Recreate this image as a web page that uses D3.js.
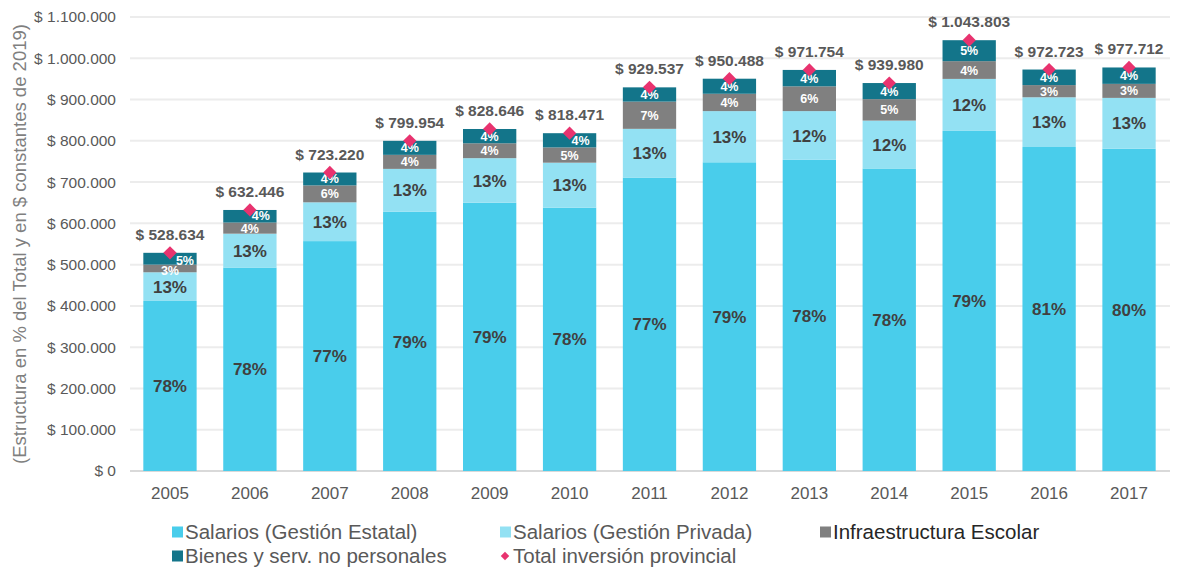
<!DOCTYPE html>
<html>
<head>
<meta charset="utf-8">
<script src="https://cdn.jsdelivr.net/npm/d3@7"></script>
<style>
  body { margin: 0; background: #fff; }
  text { font-family: "Liberation Sans", Arial, sans-serif; }
</style>
</head>
<body>
<svg id="chart" width="1180" height="567"></svg>
<script>

let years = ['2005', '2006', '2007', '2008', '2009', '2010', '2011', '2012', '2013', '2014', '2015', '2016', '2017']

// values in $ constantes de 2019
let estatal = [412000, 493000, 557000, 628000, 650000, 638000, 711000, 748000, 754000, 733000, 824000, 785000, 781000]
let privada = [69500, 82000, 94000, 104000, 108000, 109000, 118000, 124000, 118000, 116000, 126000, 120500, 123000]
let infra = [18500, 27000, 41000, 34000, 36000, 37000, 66000, 42000, 60000, 52000, 43000, 29500, 34000]
let bienes = [28634, 30446, 31220, 33954, 34646, 34471, 34537, 36488, 39754, 38980, 50803, 37723, 39712]
let totals = [528634, 632446, 723220, 799954, 828646, 818471, 929537, 950488, 971754, 939980, 1043803, 972723, 977712]

// percentage labels as printed on the bars
let estatalPct = ['78%', '78%', '77%', '79%', '79%', '78%', '77%', '79%', '78%', '78%', '79%', '81%', '80%']
let privadaPct = ['13%', '13%', '13%', '13%', '13%', '13%', '13%', '13%', '12%', '12%', '12%', '13%', '13%']
let infraPct = ['3%', '4%', '6%', '4%', '4%', '5%', '7%', '4%', '6%', '5%', '4%', '3%', '3%']
let bienesPct = ['5%', '4%', '4%', '4%', '4%', '4%', '4%', '4%', '4%', '4%', '5%', '4%', '4%']

let yTicks = [0, 100000, 200000, 300000, 400000, 500000, 600000, 700000, 800000, 900000, 1000000, 1100000]

let seriesNames = ['Salarios (Gestión Estatal)', 'Salarios (Gestión Privada)', 'Infraestructura Escolar', 'Bienes y serv. no personales']
let totalName = 'Total inversión provincial'

let colors = ['#49cdeb', '#93e1f3', '#808080', '#13758a']
let diamondColor = '#e8336f'

let locale = d3.formatLocale({ decimal: ',', thousands: '.', grouping: [3], currency: ['$ ', ''] })
let money = locale.format('$,.0f')

let svg = d3.select('#chart')

let x = d3.scaleBand().domain(years).range([130, 1169]).paddingInner(0.333).paddingOuter(0.1667)
let y = d3.scaleLinear().domain([0, 1100000]).range([471, 17])

// grid
svg.append('g')
    .selectAll('line')
    .data(yTicks)
    .enter().append('line')
    .attr('x1', 130).attr('x2', 1170)
    .attr('y1', d => y(d)).attr('y2', d => y(d))
    .attr('stroke', d => d == 0 ? '#d9d9d9' : '#ececec')
    .attr('stroke-width', 2)

// y axis labels
let yAxis = svg.append('g')
    .attr('transform', 'translate(116,0)')
    .call(d3.axisLeft(y).tickValues(yTicks).tickFormat(money).tickSize(0).tickPadding(0))
yAxis.select('.domain').remove()
yAxis.selectAll('text')
    .style('font-size', '15.5px')
    .style('font-family', '"Liberation Sans", Arial, sans-serif')
    .attr('fill', '#595959')

// x axis labels
let xAxis = svg.append('g')
    .attr('transform', 'translate(0,471)')
    .call(d3.axisBottom(x).tickSize(0).tickPadding(16))
xAxis.select('.domain').remove()
xAxis.selectAll('text')
    .style('font-size', '17px')
    .style('font-family', '"Liberation Sans", Arial, sans-serif')
    .attr('fill', '#595959')

// y title
svg.append('text')
    .attr('transform', 'translate(26,244) rotate(-90)')
    .attr('text-anchor', 'middle')
    .style('font-size', '18.5px')
    .attr('fill', '#7f7f7f')
    .text('(Estructura en % del Total y en $ constantes de 2019)')

// stacked bars
let rows = years.map(function (yr, i) {
    return { year: yr, estatal: estatal[i], privada: privada[i], infra: infra[i], bienes: bienes[i] }
})
let keys = ['estatal', 'privada', 'infra', 'bienes']
let stacked = d3.stack().keys(keys)(rows)
let pctLabels = [estatalPct, privadaPct, infraPct, bienesPct]

let layers = svg.append('g').selectAll('g')
    .data(stacked)
    .enter().append('g')
    .attr('fill', (d, i) => colors[i])

layers.selectAll('rect')
    .data(d => d)
    .enter().append('rect')
    .attr('x', d => x(d.data.year))
    .attr('y', d => y(d[1]))
    .attr('width', x.bandwidth())
    .attr('height', d => y(d[0]) - y(d[1]))

// bars where the top label was pushed aside by the marker
let nudged = ['2005', '2006', '2010']

// percentage labels
stacked.forEach(function (layer, k) {
    let big = k < 2
    svg.append('g').selectAll('text')
        .data(layer)
        .enter().append('text')
        .attr('x', function (d) {
            let cx = x(d.data.year) + x.bandwidth() / 2
            if (k == 3 && nudged.includes(d.data.year)) cx += d.data.year == '2005' ? 15 : 11
            return cx
        })
        .attr('y', function (d) {
            let cy = (y(d[0]) + y(d[1])) / 2
            if (k == 3 && d.data.year == '2005') cy += 2
            if (k == 3 && d.data.year == '2006') cy -= 1
            if (k == 2 && d.data.year == '2005') cy += 2
            return cy
        })
        .attr('dy', '0.36em')
        .attr('text-anchor', 'middle')
        .style('font-size', big ? '17px' : '12.5px')
        .style('font-weight', 'bold')
        .attr('fill', big ? '#404040' : '#ffffff')
        .text((d, i) => pctLabels[k][i])
})

// total markers
let diamond = d3.symbol().type(d3.symbolSquare).size(88)
svg.append('g').selectAll('path')
    .data(totals)
    .enter().append('path')
    .attr('d', diamond)
    .attr('transform', (d, i) => `translate(${x(years[i]) + x.bandwidth() / 2},${y(d)}) rotate(45)`)
    .attr('fill', diamondColor)

// total labels
svg.append('g').selectAll('text')
    .data(totals)
    .enter().append('text')
    .attr('x', (d, i) => x(years[i]) + x.bandwidth() / 2)
    .attr('y', d => y(d) - 13)
    .attr('text-anchor', 'middle')
    .style('font-size', '15.5px')
    .style('font-weight', 'bold')
    .attr('fill', '#595959')
    .text(d => money(d))

// legend
let legendItems = [
    { name: seriesNames[0], color: colors[0], x: 172, y: 532, text: '#595959' },
    { name: seriesNames[1], color: colors[1], x: 500, y: 532, text: '#595959' },
    { name: seriesNames[2], color: colors[2], x: 820, y: 532, text: '#262626' },
    { name: seriesNames[3], color: colors[3], x: 172, y: 556, text: '#595959' }
]
let legend = svg.append('g')
legendItems.forEach(function (it) {
    legend.append('rect')
        .attr('x', it.x).attr('y', it.y - 5.5)
        .attr('width', 11).attr('height', 11)
        .attr('fill', it.color)
    legend.append('text')
        .attr('x', it.x + 13).attr('y', it.y)
        .attr('dy', '0.35em')
        .style('font-size', '20.5px')
        .attr('fill', it.text)
        .text(it.name)
})
legend.append('path')
    .attr('d', d3.symbol().type(d3.symbolSquare).size(36))
    .attr('transform', 'translate(505,556) rotate(45)')
    .attr('fill', diamondColor)
legend.append('text')
    .attr('x', 513).attr('y', 556)
    .attr('dy', '0.35em')
    .style('font-size', '20.5px')
    .attr('fill', '#595959')
    .text(totalName)

</script>
</body>
</html>
